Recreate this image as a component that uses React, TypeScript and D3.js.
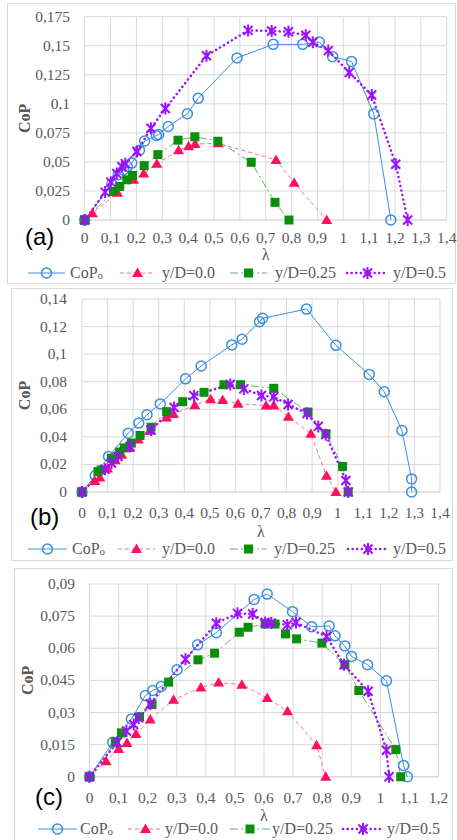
import React from "react";
import * as d3 from "d3";

// ---------- data (λ, CoP) ----------
const aCoPo: [number, number][] = [[0,0],[0.105,0.031],[0.13,0.039],[0.15,0.043],[0.165,0.046],[0.182,0.049],[0.212,0.06],[0.232,0.068],[0.277,0.0727],[0.286,0.0736],[0.323,0.0805],[0.397,0.0915],[0.439,0.1047],[0.589,0.1395],[0.729,0.1512],[0.843,0.1512],[0.907,0.1533],[0.959,0.1406],[1.032,0.1365],[1.118,0.0913],[1.184,0]];
const aY00: [number, number][] = [[0,0],[0.03,0.0058],[0.127,0.0235],[0.189,0.0346],[0.228,0.04],[0.279,0.0485],[0.363,0.06],[0.402,0.0635],[0.427,0.0655],[0.517,0.066],[0.74,0.0517],[0.81,0.032],[0.936,0]];
const aY025: [number, number][] = [[0,0],[0.111,0.0245],[0.135,0.0289],[0.163,0.0346],[0.185,0.0384],[0.23,0.0468],[0.283,0.0563],[0.361,0.0687],[0.426,0.0716],[0.515,0.0678],[0.644,0.0497],[0.736,0.0152],[0.79,0]];
const aY05: [number, number][] = [[0,0],[0.079,0.024],[0.101,0.0326],[0.124,0.04],[0.144,0.046],[0.157,0.0485],[0.202,0.059],[0.256,0.079],[0.312,0.096],[0.471,0.1414],[0.632,0.1632],[0.723,0.1627],[0.788,0.162],[0.855,0.159],[0.882,0.153],[0.942,0.1458],[1.023,0.127],[1.11,0.1076],[1.203,0.048],[1.249,0]];

const bCoPo: [number, number][] = [[0,0],[0.052,0.0119],[0.104,0.0258],[0.181,0.0427],[0.222,0.05],[0.254,0.056],[0.306,0.0639],[0.405,0.0821],[0.466,0.0914],[0.586,0.1067],[0.626,0.1108],[0.694,0.1235],[0.706,0.126],[0.878,0.1327],[0.993,0.1064],[1.123,0.0853],[1.182,0.0727],[1.251,0.0447],[1.289,0.0095],[1.289,0]];
const bY00: [number, number][] = [[0,0],[0.05,0.008],[0.07,0.0105],[0.1,0.017],[0.13,0.023],[0.155,0.027],[0.185,0.032],[0.22,0.038],[0.265,0.0445],[0.331,0.054],[0.358,0.0565],[0.441,0.063],[0.503,0.0673],[0.55,0.0667],[0.61,0.064],[0.72,0.0628],[0.75,0.0628],[0.807,0.0546],[0.895,0.0423],[0.956,0.0117],[0.993,0]];
const bY025: [number, number][] = [[0,0],[0.0625,0.0148],[0.075,0.016],[0.115,0.0245],[0.147,0.029],[0.165,0.032],[0.193,0.0355],[0.227,0.041],[0.27,0.047],[0.331,0.0583],[0.394,0.0655],[0.477,0.0723],[0.555,0.0778],[0.62,0.0778],[0.75,0.0752],[0.884,0.058],[0.954,0.0423],[1.019,0.0185],[1.041,0]];
const bY05: [number, number][] = [[0,0],[0.09,0.0165],[0.115,0.021],[0.141,0.0258],[0.1875,0.033],[0.27,0.045],[0.36,0.0613],[0.4375,0.0699],[0.58,0.078],[0.633,0.0748],[0.702,0.07],[0.75,0.069],[0.806,0.0635],[0.88,0.057],[0.924,0.0476],[0.953,0.0416],[1.032,0.0083],[1.041,0]];

const cCoPo: [number, number][] = [[0,0],[0.08,0.0161],[0.144,0.027],[0.192,0.0379],[0.2175,0.0403],[0.247,0.0422],[0.301,0.05],[0.372,0.0616],[0.436,0.0673],[0.566,0.0828],[0.611,0.0853],[0.698,0.0771],[0.764,0.0701],[0.824,0.0704],[0.844,0.0658],[0.878,0.0611],[0.901,0.0562],[0.956,0.0523],[1.021,0.0448],[1.08,0.0053],[1.093,0]];
const cY00: [number, number][] = [[0,0],[0.057,0.0073],[0.1,0.013],[0.129,0.0158],[0.16,0.02],[0.209,0.0267],[0.289,0.036],[0.383,0.0417],[0.444,0.044],[0.524,0.043],[0.611,0.0368],[0.681,0.0306],[0.781,0.0147],[0.812,0]];
const cY025: [number, number][] = [[0,0],[0.089,0.0163],[0.11,0.0205],[0.172,0.028],[0.215,0.0337],[0.272,0.0442],[0.373,0.0546],[0.43,0.0577],[0.515,0.0675],[0.545,0.0698],[0.604,0.0713],[0.638,0.0713],[0.674,0.0667],[0.712,0.0644],[0.799,0.0624],[0.878,0.0523],[0.926,0.0403],[1.053,0.0127],[1.07,0]];
const cY05: [number, number][] = [[0,0],[0.095,0.0161],[0.127,0.0214],[0.152,0.0244],[0.169,0.0275],[0.209,0.034],[0.33,0.0549],[0.436,0.0717],[0.509,0.0763],[0.561,0.076],[0.604,0.072],[0.625,0.0718],[0.68,0.0709],[0.71,0.072],[0.815,0.0655],[0.875,0.0523],[0.958,0.0399],[1.021,0.0124],[1.03,0]];

const aXTicks = d3.range(0, 15).map((i) => i / 10);
const aYTicks = [0, 0.025, 0.05, 0.075, 0.1, 0.125, 0.15, 0.175];
const bXTicks = d3.range(0, 15).map((i) => i / 10);
const bYTicks = [0, 0.02, 0.04, 0.06, 0.08, 0.1, 0.12, 0.14];
const cXTicks = d3.range(0, 13).map((i) => i / 10);
const cYTicks = [0, 0.015, 0.03, 0.045, 0.06, 0.075, 0.09];

const seriesNames = ["CoP", "y/D=0.0", "y/D=0.25", "y/D=0.5"];
const panelLabels = ["(a)", "(b)", "(c)"];

// ---------- styles ----------
const BLUE = "#3b8fde";
const RED = "#ff0f5f";
const REDLINE = "#ff6f96";
const GREEN = "#0a8f0a";
const GREENLINE = "#5fb35f";
const PURPLE = "#9a10ff";
const GRID = "#d9d9d9";
const TXT = "#595959";
const SERIF = "Liberation Serif, Times New Roman, serif";
const serifStyle = { fontFamily: SERIF } as React.CSSProperties;

const fmt = (v: number) => (v === 0 ? "0" : String(+v.toFixed(3)).replace(".", ","));

function Marker({ kind, x, y }: { kind: number; x: number; y: number }) {
  if (kind === 0)
    return <circle cx={x} cy={y} r={5} fill="none" stroke={BLUE} strokeWidth={1.5} />;
  if (kind === 1)
    return <path d={`M${x},${y - 5.5}L${x + 5.5},${y + 4}L${x - 5.5},${y + 4}Z`} fill={RED} />;
  if (kind === 2) return <rect x={x - 4.5} y={y - 4.5} width={9} height={9} fill={GREEN} />;
  return (
    <path
      d={`M${x - 4.5},${y - 4.5}L${x + 4.5},${y + 4.5}M${x - 4.5},${y + 4.5}L${x + 4.5},${y - 4.5}M${x},${y - 6}L${x},${y + 6}`}
      stroke={PURPLE}
      strokeWidth={2}
      fill="none"
    />
  );
}

const lineStyles = [
  { stroke: BLUE, strokeWidth: 1, dash: undefined as string | undefined, cap: "butt" },
  { stroke: REDLINE, strokeWidth: 1, dash: "4,3", cap: "butt" },
  { stroke: GREENLINE, strokeWidth: 1, dash: "8,3,2,3", cap: "butt" },
  { stroke: PURPLE, strokeWidth: 2.5, dash: "0.1,4.5", cap: "round" },
];

type PanelCfg = {
  frame: [number, number, number, number];
  plot: { l: number; r: number; t: number; b: number };
  xMax: number;
  yMax: number;
  xTicks: number[];
  yTicks: number[];
  series: [number, number][][];
  tickBase: number;
  yLabelRight: number;
  lambdaBase: number;
  copX: number;
  legendBase: number;
  legend: { l1: number; l2: number; tx: number }[];
  label: string;
  labelX: number;
  labelBase: number;
};

function Panel({ cfg }: { cfg: PanelCfg }) {
  const { plot } = cfg;
  const x = d3.scaleLinear().domain([0, cfg.xMax]).range([plot.l, plot.r]);
  const y = d3.scaleLinear().domain([0, cfg.yMax]).range([plot.b, plot.t]);
  const line = d3
    .line<[number, number]>()
    .x((d) => x(d[0]))
    .y((d) => y(d[1]));
  const order = [0, 1, 2, 3];
  return (
    <g>
      <rect
        x={cfg.frame[0]}
        y={cfg.frame[1]}
        width={cfg.frame[2] - cfg.frame[0]}
        height={cfg.frame[3] - cfg.frame[1]}
        fill="#fff"
        stroke={GRID}
        strokeWidth={1}
      />
      {cfg.xTicks.map((t, i) => (
        <line key={"gx" + i} x1={x(t)} x2={x(t)} y1={plot.t} y2={plot.b} stroke={GRID} strokeWidth={1} />
      ))}
      {cfg.yTicks.map((t, i) => (
        <line key={"gy" + i} x1={plot.l} x2={plot.r} y1={y(t)} y2={y(t)} stroke={t === 0 ? "#c8c8c8" : GRID} strokeWidth={1} />
      ))}
      {cfg.xTicks.map((t, i) => (
        <text key={"tx" + i} x={x(t)} y={cfg.tickBase} textAnchor="middle" style={serifStyle} fontSize={15.5} fill={TXT}>
          {fmt(t)}
        </text>
      ))}
      {cfg.yTicks.map((t, i) => (
        <text key={"ty" + i} x={cfg.yLabelRight} y={y(t) + 5} textAnchor="end" style={serifStyle} fontSize={15.5} fill={TXT}>
          {fmt(t)}
        </text>
      ))}
      <text x={(plot.l + plot.r) / 2} y={cfg.lambdaBase} textAnchor="middle" style={serifStyle} fontSize={16} fill={TXT}>
        λ
      </text>
      <text
        transform={`translate(${cfg.copX},${(plot.t + plot.b) / 2}) rotate(-90)`}
        textAnchor="middle"
        style={serifStyle}
        fontSize={16}
        fontWeight="bold"
        fill={TXT}
        dy={5}
      >
        CoP
      </text>
      {order.map((k) => {
        const s = lineStyles[k];
        return (
          <path
            key={"l" + k}
            d={line(cfg.series[k]) || ""}
            fill="none"
            stroke={s.stroke}
            strokeWidth={s.strokeWidth}
            strokeDasharray={s.dash}
            strokeLinecap={s.cap as any}
          />
        );
      })}
      {order.map((k) => (
        <g key={"m" + k}>
          {cfg.series[k].map((d, i) => (
            <Marker key={i} kind={k} x={x(d[0])} y={y(d[1])} />
          ))}
        </g>
      ))}
      {cfg.legend.map((lg, k) => {
        const s = lineStyles[k];
        const ly = cfg.legendBase - 5;
        return (
          <g key={"lg" + k}>
            <line
              x1={lg.l1}
              x2={lg.l2}
              y1={ly}
              y2={ly}
              stroke={s.stroke}
              strokeWidth={s.strokeWidth}
              strokeDasharray={s.dash}
              strokeLinecap={s.cap as any}
            />
            <Marker kind={k} x={(lg.l1 + lg.l2) / 2} y={ly} />
            <text x={lg.tx} y={cfg.legendBase} style={serifStyle} fontSize={16} fill={TXT}>
              {seriesNames[k]}
              {k === 0 ? (
                <tspan fontSize={11} dy={1}>
                  o
                </tspan>
              ) : null}
            </text>
          </g>
        );
      })}
      <text
        x={cfg.labelX}
        y={cfg.labelBase}
        style={{ fontFamily: "Liberation Sans, Arial, sans-serif" }}
        fontSize={24}
        fill="#000"
      >
        {cfg.label}
      </text>
    </g>
  );
}

const panels: PanelCfg[] = [
  {
    frame: [7.5, 3.5, 455.5, 283.5],
    plot: { l: 84.7, r: 446.7, t: 16.7, b: 220 },
    xMax: 1.4,
    yMax: 0.175,
    xTicks: aXTicks,
    yTicks: aYTicks,
    series: [aCoPo, aY00, aY025, aY05],
    tickBase: 243,
    yLabelRight: 70,
    lambdaBase: 260,
    copX: 25,
    legendBase: 278,
    legend: [
      { l1: 28, l2: 65, tx: 70 },
      { l1: 120, l2: 155, tx: 162 },
      { l1: 230, l2: 267, tx: 275 },
      { l1: 347, l2: 388, tx: 393 },
    ],
    label: panelLabels[0],
    labelX: 25,
    labelBase: 245,
  },
  {
    frame: [11.5, 288.5, 452.5, 560.5],
    plot: { l: 82, r: 440, t: 299, b: 492 },
    xMax: 1.4,
    yMax: 0.14,
    xTicks: bXTicks,
    yTicks: bYTicks,
    series: [bCoPo, bY00, bY025, bY05],
    tickBase: 518,
    yLabelRight: 67,
    lambdaBase: 537,
    copX: 25,
    legendBase: 554,
    legend: [
      { l1: 28, l2: 67, tx: 72 },
      { l1: 118, l2: 155, tx: 162 },
      { l1: 230, l2: 267, tx: 274 },
      { l1: 348, l2: 388, tx: 393 },
    ],
    label: panelLabels[1],
    labelX: 30,
    labelBase: 525,
  },
  {
    frame: [14.5, 568.5, 452.5, 845],
    plot: { l: 89.5, r: 438.5, t: 584, b: 776.8 },
    xMax: 1.2,
    yMax: 0.09,
    xTicks: cXTicks,
    yTicks: cYTicks,
    series: [cCoPo, cY00, cY025, cY05],
    tickBase: 803,
    yLabelRight: 75,
    lambdaBase: 821,
    copX: 27.5,
    legendBase: 834,
    legend: [
      { l1: 38, l2: 77, tx: 80 },
      { l1: 128, l2: 163, tx: 165 },
      { l1: 230, l2: 270, tx: 272 },
      { l1: 343, l2: 383, tx: 387 },
    ],
    label: panelLabels[2],
    labelX: 35,
    labelBase: 805,
  },
];

export default function App() {
  return (
    <svg
      width={457}
      height={840}
      viewBox="0 0 457 840"
      style={{ position: "absolute", left: 0, top: 0, background: "#fff" }}
    >
      <rect x={0} y={0} width={457} height={840} fill="#fff" />
      {panels.map((p, i) => (
        <Panel key={i} cfg={p} />
      ))}
    </svg>
  );
}
